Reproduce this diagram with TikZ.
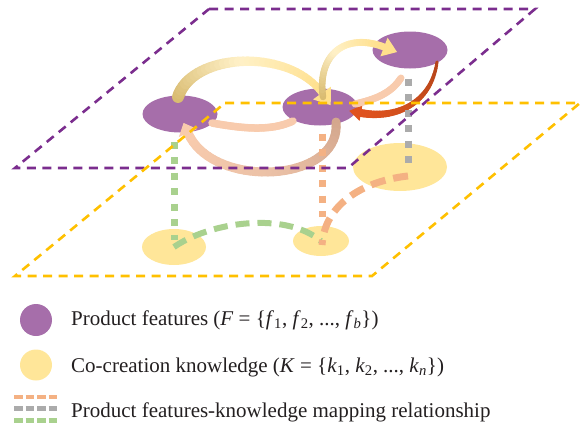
\documentclass[tikz,border=0pt]{standalone}
\usepackage{fontspec}
\setmainfont{Liberation Serif}
\usetikzlibrary{calc,shapes.geometric}

\definecolor{featfill}{HTML}{A66EAA}
\definecolor{knowfill}{HTML}{FFE699}
\definecolor{planepurple}{HTML}{7B2D8E}
\definecolor{planeyellow}{HTML}{FFC000}
\definecolor{mapgray}{HTML}{ABABAB}
\definecolor{mapgreen}{HTML}{A9D18E}
\definecolor{maporange}{HTML}{F4B183}
\definecolor{tanA}{HTML}{D8BA6E}
\definecolor{paleA}{HTML}{FFF1C8}
\definecolor{yelA}{HTML}{FFE08C}
\definecolor{redA}{HTML}{B5441A}
\definecolor{redM}{HTML}{CC4E1C}
\definecolor{redB}{HTML}{E0531F}
\definecolor{pinkA}{HTML}{F8CBAD}
\definecolor{brownA}{HTML}{D3A68C}
\definecolor{brownM}{HTML}{EAC0A6}
\definecolor{legtext}{HTML}{231F20}

% read the canvas position of a point into two macros
\newcommand\grabxy[3]{\path let \p1=#1 in \pgfextra{\xdef#2{\x1}\xdef#3{\y1}};}

% colours (start, middle, end) and widths (start, end) of the next band
\def\bandN{36}
\newcommand\bandstyle[5]{\def\bandA{#1}\def\bandM{#2}\def\bandB{#3}\def\bandwA{#4}\def\bandwB{#5}}

% a cubic curve stroked in short pieces, so colour and width can change along it
\newcommand\gradband[4]{%
  \grabxy{#1}{\qAx}{\qAy}\grabxy{#2}{\qBx}{\qBy}%
  \grabxy{#3}{\qCx}{\qCy}\grabxy{#4}{\qDx}{\qDy}%
  \foreach \i in {1,...,\bandN}{%
    \pgfmathsetmacro\sa{(\i-1)/\bandN}%
    \pgfmathsetmacro\sb{\i/\bandN}%
    \pgfmathsetmacro\xa{(1-\sa)^3*(\qAx)+3*(1-\sa)^2*\sa*(\qBx)+3*(1-\sa)*\sa^2*(\qCx)+\sa^3*(\qDx)}%
    \pgfmathsetmacro\ya{(1-\sa)^3*(\qAy)+3*(1-\sa)^2*\sa*(\qBy)+3*(1-\sa)*\sa^2*(\qCy)+\sa^3*(\qDy)}%
    \pgfmathsetmacro\xb{(1-\sb)^3*(\qAx)+3*(1-\sb)^2*\sb*(\qBx)+3*(1-\sb)*\sb^2*(\qCx)+\sb^3*(\qDx)}%
    \pgfmathsetmacro\yb{(1-\sb)^3*(\qAy)+3*(1-\sb)^2*\sb*(\qBy)+3*(1-\sb)*\sb^2*(\qCy)+\sb^3*(\qDy)}%
    \pgfmathsetmacro\lw{\bandwA+(\bandwB-\bandwA)*(\i-0.5)/\bandN}%
    \pgfmathtruncatemacro\pc{round(200*(\i-0.5)/\bandN)}%
    \ifnum\pc>100
      \pgfmathtruncatemacro\pc{\pc-100}%
      \colorlet{bandcol}{\bandB!\pc!\bandM}%
    \else
      \colorlet{bandcol}{\bandM!\pc!\bandA}%
    \fi
    \draw[line width=\lw pt, bandcol, line cap=round] (\xa pt,\ya pt) -- (\xb pt,\yb pt);
  }}

% triangular head: #1 last control point, #2 end of band, #3 length, #4 half width
\newcommand\bandhead[5]{%
  \fill[#5] ($#2!-#3!#1$) -- ($#2!#4!90:#1$) -- ($#2!#4!-90:#1$) -- cycle;}

\tikzset{
  feat/.style={ellipse, fill=featfill, minimum width=75pt, minimum height=37pt, inner sep=0pt},
  know/.style={ellipse, fill=knowfill, inner sep=0pt},
  plane/.style={line width=2.6pt, dash pattern=on 9pt off 6.5pt},
  mapdots/.style={line width=7pt, dash pattern=on 7pt off 8.5pt},
  mapdash/.style={line width=6pt, dash pattern=on 14pt off 8pt},
  legdash/.style={line width=4.5pt, dash pattern=on 8.5pt off 3pt},
  legtxt/.style={anchor=base west, inner sep=0pt, text=legtext,
    font=\fontsize{21}{25}\selectfont},
}

\begin{document}
\begin{tikzpicture}[x=1pt,y=-1pt]
\useasboundingbox (0,0) rectangle (586,426);

% knowledge ellipses on the lower plane
\node[know, minimum width=64pt, minimum height=36pt] (K1) at (174,247) {};
\node[know, minimum width=56pt, minimum height=30pt] (K2) at (321,241) {};
\node[know, minimum width=94pt, minimum height=48pt] (K3) at (400,167) {};

% feature ellipses on the upper plane
\node[feat] (F1) at (180,114) {};
\node[feat] (F2) at (320,107) {};
\node[feat] (F3) at (410,50) {};

% control points of the relation arrows
\coordinate (a0) at ($(F1.center)+(-2,-17)$);
\coordinate (a1) at ($(F1.center)+(12,-62)$);
\coordinate (a2) at ($(F2.center)+(-30,-59)$);
\coordinate (a3) at ($(F2.center)+(2,-14)$);
\coordinate (b0) at ($(F2.center)+(3,-10)$);
\coordinate (b1) at ($(F2.center)+(-3,-52)$);
\coordinate (b2) at ($(F3.center)+(-65,-18)$);
\coordinate (b3) at ($(F3.center)+(-26,-3)$);
\coordinate (c0) at ($(F3.center)+(27,12)$);
\coordinate (c1) at ($(F3.center)+(22,50)$);
\coordinate (c2) at ($(F2.center)+(80,13)$);
\coordinate (c3) at ($(F2.center)+(41,6)$);
\coordinate (d0) at ($(F3.center)+(-9,28)$);
\coordinate (d1) at ($(F3.center)+(-20,45)$);
\coordinate (d2) at ($(F2.center)+(52,-7)$);
\coordinate (d3) at ($(F2.center)+(35,-3)$);
\coordinate (e0) at ($(F2.center)+(-27,14)$);
\coordinate (e1) at ($(F2.center)+(-50,25)$);
\coordinate (e2) at ($(F1.center)+(60,14)$);
\coordinate (e3) at ($(F1.center)+(32,9)$);
\coordinate (g0) at ($(F2.center)+(16,15)$);
\coordinate (g1) at ($(F2.center)+(22,76)$);
\coordinate (g2) at ($(F1.center)+(33,76)$);
\coordinate (g3) at ($(F1.center)+(8,19)$);

% F1 -> F2 over the top
\bandstyle{tanA}{paleA}{yelA}{12}{7}
\gradband{(a0)}{(a1)}{(a2)}{(a3)}
\bandhead{(a2)}{(a3)}{15pt}{11pt}{yelA}

% F2 -> F3
\bandstyle{tanA}{paleA}{yelA}{6.5}{7}
\gradband{(b0)}{(b1)}{(b2)}{(b3)}
\bandhead{(b2)}{(b3)}{14pt}{10pt}{yelA}

% F3 -> F2 (red)
\bandstyle{redA}{redM}{redB}{3}{8}
\gradband{(c0)}{(c1)}{(c2)}{(c3)}
\bandhead{(c2)}{(c3)}{12pt}{8pt}{redB}

% F3 -- F2 and F2 -- F1 (light bands)
\bandstyle{pinkA}{pinkA}{pinkA}{7}{7}
\gradband{(d0)}{(d1)}{(d2)}{(d3)}
\bandstyle{pinkA}{pinkA}{pinkA}{7.5}{7.5}
\gradband{(e0)}{(e1)}{(e2)}{(e3)}

% F2 -> F1 underneath
\bandstyle{brownA}{brownM}{pinkA}{9}{9}
\gradband{(g0)}{(g1)}{(g2)}{(g3)}
\bandhead{(g2)}{(g3)}{11pt}{10pt}{pinkA}

% feature-knowledge mapping links
\draw[mapdots, mapgreen] ($(F1.south)+(-6,9)$) -- ($(K1.center)+(0,-7)$);
\draw[mapdots, maporange] ($(F2.south)+(2,8)$) -- ($(K2.center)+(1,-24)$);
\draw[mapdots, mapgray] ($(F3.south)+(-2,10)$) -- ($(K3.center)+(8,-4)$);

\draw[mapdash, mapgreen] (K1.center) .. controls ($(K1.center)+(36,-25)$) and ($(K2.center)+(-36,-30)$) .. (K2.center);
\draw[mapdash, maporange, line width=7pt, dash pattern=on 15pt off 8pt]
  ($(K3.center)+(8,9)$) .. controls ($(K3.center)+(-30,13)$) and ($(K2.center)+(4,-41)$) .. ($(K2.center)+(1,4)$);

% the two planes
\draw[plane, planepurple] (209,9) -- (535,9) -- (348,168) -- (15,168) -- cycle;
\draw[plane, planeyellow] (225,103) -- (580,103) -- (372,276) -- (15,276) -- cycle;

% legend
\node[ellipse, fill=featfill, minimum width=32pt, minimum height=32pt, inner sep=0pt] (LF) at (36,320) {};
\node[ellipse, fill=knowfill, minimum width=32pt, minimum height=31pt, inner sep=0pt] (LK) at (36,365) {};
\coordinate (LMa) at (14,397);
\coordinate (LMb) at (57,397);
\draw[legdash, maporange] (LMa) -- (LMb);
\draw[legdash, mapgray] ($(LMa)+(0,11.5)$) -- ($(LMb)+(0,11.5)$);
\draw[legdash, mapgreen] ($(LMa)+(0,23.5)$) -- ($(LMb)+(0,23.5)$);

\node[legtxt] (T1) at (71,325) {Product features (\textit{F} = \{\textit{f}\textsubscript{1}, \textit{f}\textsubscript{2}, ..., \textit{f}\textsubscript{\textit{b}}\})};
\node[legtxt] (T2) at (71,372) {Co-creation knowledge (\textit{K} = \{\textit{k}\textsubscript{1}, \textit{k}\textsubscript{2}, ..., \textit{k}\textsubscript{\textit{n}}\})};
\node[legtxt] (T3) at (71,417) {Product features-knowledge mapping relationship};
\end{tikzpicture}
\end{document}
